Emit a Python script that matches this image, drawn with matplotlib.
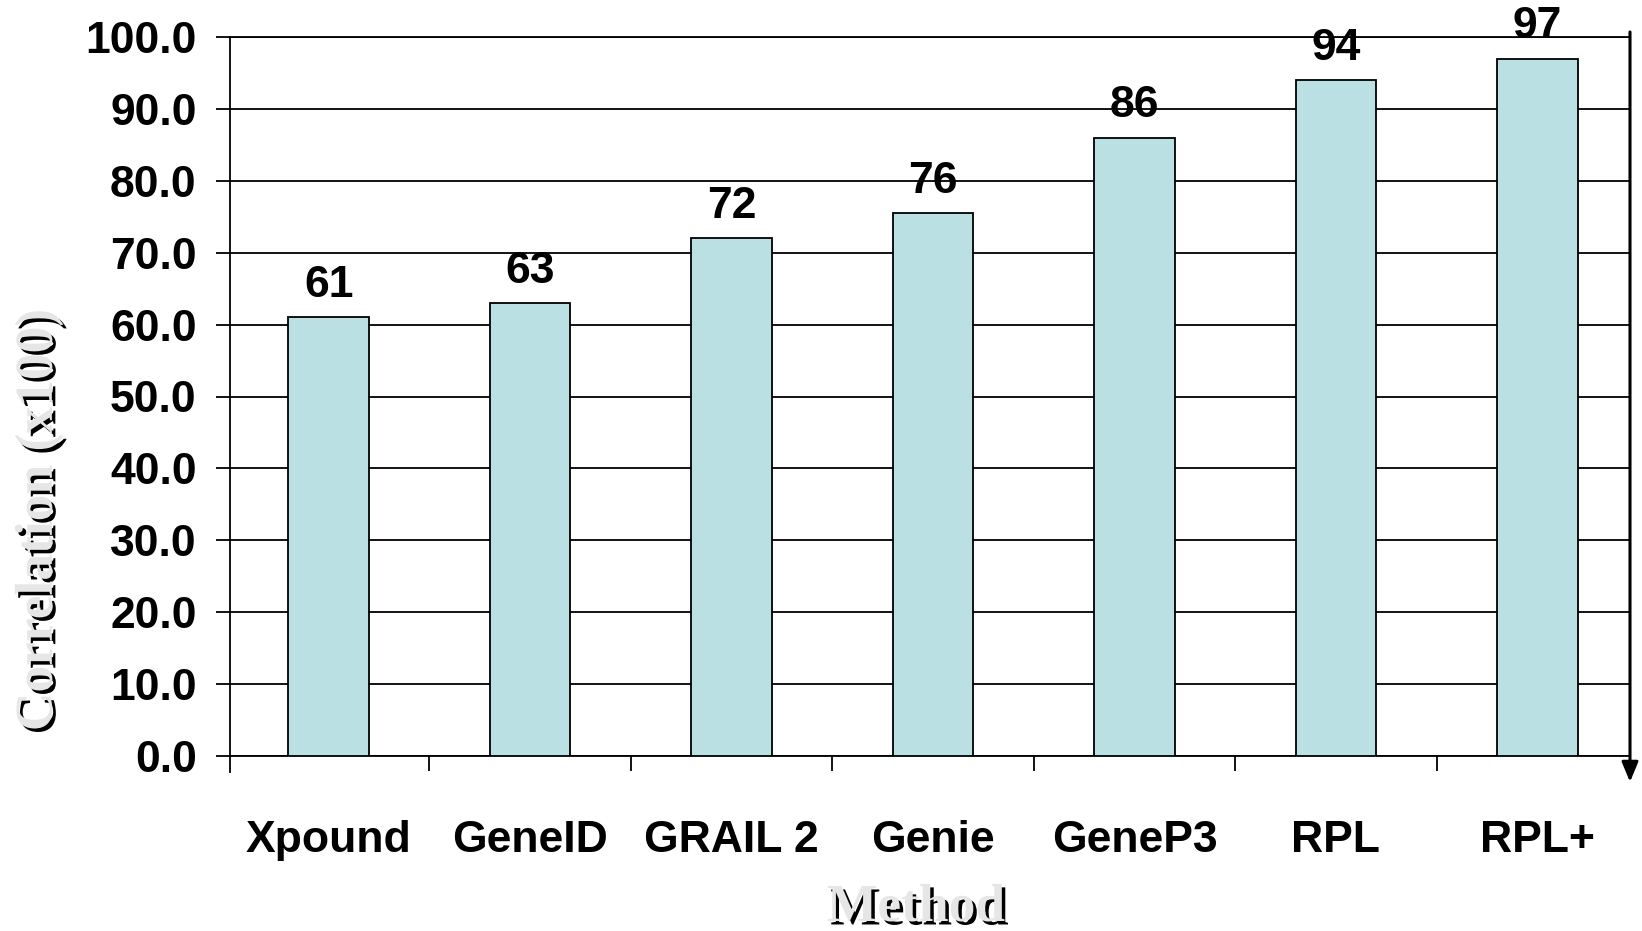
import matplotlib.pyplot as plt
import matplotlib.patheffects as pe
import numpy as np

methods = ['Xpound', 'GeneID', 'GRAIL 2', 'Genie', 'GeneP3', 'RPL', 'RPL+']
correlation = [61, 63, 72, 75.5, 86, 94, 97]
value_labels = ['61', '63', '72', '76', '86', '94', '97']
yticks = [0, 10, 20, 30, 40, 50, 60, 70, 80, 90, 100]

plt.rcParams['font.family'] = ['Liberation Sans', 'DejaVu Sans']

fig = plt.figure(figsize=(16.42, 9.31), dpi=100)
ax = fig.add_axes([230 / 1642, 1 - 756 / 931, 1400 / 1642, 719 / 931])

x = np.arange(len(methods))
bars = ax.bar(x, correlation, width=0.40, color='#bbe0e3', edgecolor='black',
              linewidth=1.3, zorder=3)

for xi, v, lab in zip(x, correlation, value_labels):
    ax.text(xi, v + 1.6, lab, ha='center', va='bottom', fontsize=32,
            fontweight='bold', zorder=4)

ax.set_xlim(-0.49, 6.46)
ax.set_ylim(0, 100)

ax.set_yticks(yticks)
ax.set_yticklabels([f'{t:.1f}' for t in yticks], fontsize=32, fontweight='bold')
ax.tick_params(axis='y', direction='out', length=10, width=1.3, pad=14)
ax.yaxis.grid(True, color='black', linewidth=1.3, zorder=1)

ax.set_xticks(x)
ax.set_xticklabels(methods, fontsize=32, fontweight='bold')
ax.tick_params(axis='x', which='major', length=0, pad=46)
ax.set_xticks(np.arange(0.5, len(methods) - 1), minor=True)
ax.tick_params(axis='x', which='minor', direction='out', length=11, width=1.3)

for s in ['left', 'bottom', 'top']:
    ax.spines[s].set_linewidth(1.3)
ax.spines['right'].set_visible(False)
ax.spines['left'].set_bounds(-2.2, 100)
ax.spines['left'].set_zorder(5)

ax.annotate('', xy=(1.0, -0.036), xytext=(1.0, 1.007), xycoords='axes fraction',
            arrowprops=dict(arrowstyle='-|>,head_width=0.5,head_length=1.2',
                            color='black', lw=2.2, shrinkA=0, shrinkB=0),
            annotation_clip=False)

shadow = [pe.SimplePatchShadow(offset=(2.5, -2.5), shadow_rgbFace='black', alpha=1.0),
          pe.Normal()]
fig.text(39 / 1642, 1 - 520 / 931, 'Correlation (x100)', rotation=90,
         ha='center', va='center', fontsize=38.5, fontweight='bold',
         family=['Liberation Serif', 'DejaVu Serif'], color='#e6e6e6',
         path_effects=shadow)
fig.text(916 / 1642, 1 - 921 / 931, 'Method', ha='center', va='baseline',
         fontsize=38.5, fontweight='bold', family=['Liberation Serif', 'DejaVu Serif'],
         color='#e6e6e6', path_effects=shadow)

fig.savefig('out.png', dpi=100)
